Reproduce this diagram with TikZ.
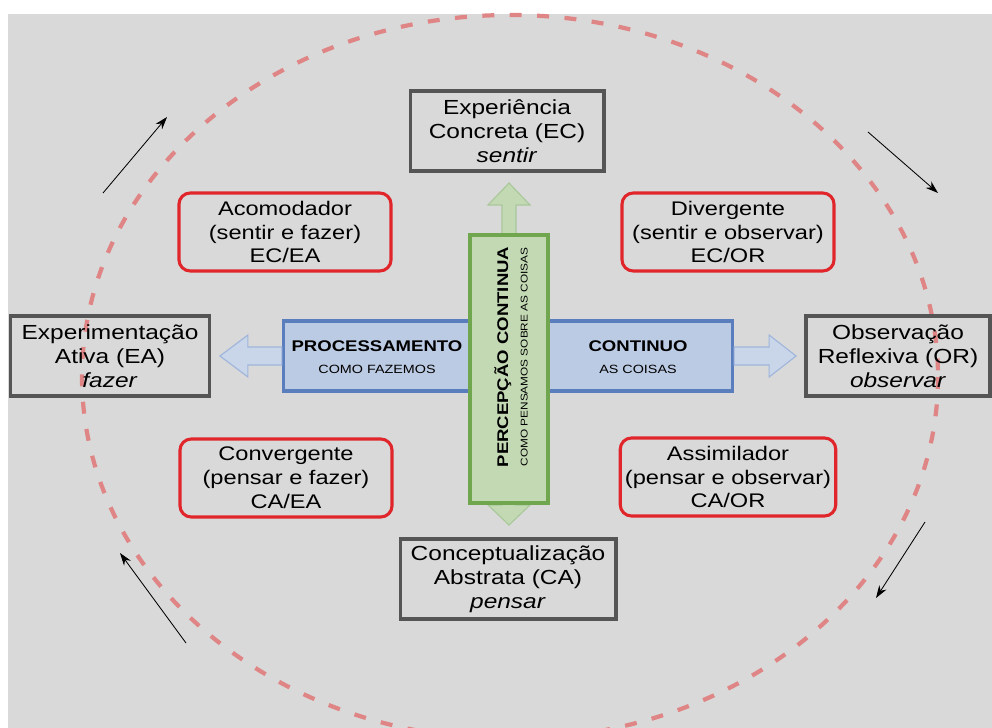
\documentclass[tikz,border=0pt]{standalone}
\usepackage{fontspec}
\setmainfont{Liberation Sans}[FakeStretch=1.2]
\usetikzlibrary{arrows.meta}
\definecolor{fundo}{HTML}{D9D9D9}
\definecolor{cinzabox}{HTML}{555555}
\definecolor{vermelho}{HTML}{E0262B}
\definecolor{tracejado}{HTML}{E08585}
\definecolor{azulfill}{HTML}{BCCBE4}
\definecolor{azulbord}{HTML}{5A7DBE}
\definecolor{azulseta}{HTML}{9FB5DA}
\definecolor{verdefill}{HTML}{C3D9B4}
\definecolor{verdebord}{HTML}{6FA64E}
\definecolor{verdeseta}{HTML}{A9C89A}

\begin{document}
\begin{tikzpicture}[x=0.025cm, y=-0.025cm,
      modo/.style={rectangle, draw=cinzabox, line width=2.8pt, align=center,
                   minimum height=2cm, font=\fontsize{14.5}{17}\selectfont},
      estilo/.style={rectangle, draw=vermelho, line width=2.2pt, rounded corners=8pt,
                     align=center, minimum width=5.3cm, minimum height=1.95cm,
                     font=\fontsize{14}{17}\selectfont},
      barra/.style={rectangle, line width=2.2pt},
      seta/.style={line width=0.8pt},
      giro/.style={-{Stealth[length=9pt,width=6pt]}, line width=0.6pt}]
    \useasboundingbox (0,0) rectangle (992,728);
    \fill[fundo] (8,14) rectangle (992,728);
    \draw[tracejado, line width=3pt, dash pattern=on 8.5pt off 11pt]
      (510,377) ellipse [x radius=428, y radius=362];

    % setas do ciclo
    \coordinate (tl1) at (103,193); \coordinate (tl2) at (167,117);
    \coordinate (tr1) at (868,132); \coordinate (tr2) at (938,193);
    \coordinate (br1) at (925,522); \coordinate (br2) at (876,598);
    \coordinate (bl1) at (186,643); \coordinate (bl2) at (120,553);
    \draw[giro] (tl1) -- (tl2);
    \draw[giro] (tr1) -- (tr2);
    \draw[giro] (br1) -- (br2);
    \draw[giro] (bl1) -- (bl2);

    % eixo horizontal
    \node[barra, fill=azulfill, draw=azulbord, minimum width=11.225cm, minimum height=1.75cm]
      (proc) at (508,356) {};
    \filldraw[seta, fill=azulfill!80!white, draw=azulseta]
      (proc.west) ++(0,-9) -- ++(-34,0) -- ++(0,-12) -- ++(-28,21) -- ++(28,21)
      -- ++(0,-12) -- ++(34,0) -- cycle;
    \filldraw[seta, fill=azulfill!80!white, draw=azulseta]
      (proc.east) ++(0,-9) -- ++(35,0) -- ++(0,-12) -- ++(27,21) -- ++(-27,21)
      -- ++(0,-12) -- ++(-35,0) -- cycle;
    \node[font=\fontsize{11}{16}\selectfont, align=center] (como) at (377,357)
      {\textbf{PROCESSAMENTO}\\\fontsize{8.5}{10}\selectfont COMO FAZEMOS};
    \node[font=\fontsize{11}{16}\selectfont, align=center] (coisas) at (638,357)
      {\textbf{CONTINUO}\\\fontsize{8.5}{10}\selectfont AS COISAS};

    % eixo vertical
    \filldraw[seta, fill=verdefill, draw=verdeseta]
      (509,240) ++(-7,0) -- ++(0,-35) -- ++(-14,0) -- ++(21,-22) -- ++(21,22)
      -- ++(-14,0) -- ++(0,35) -- cycle;
    \filldraw[seta, fill=verdefill, draw=verdeseta]
      (509,498) ++(-7,0) -- ++(0,7) -- ++(-14,0) -- ++(21,20) -- ++(21,-20)
      -- ++(-14,0) -- ++(0,-7) -- cycle;
    \node[barra, fill=verdefill, draw=verdebord, minimum width=1.95cm, minimum height=6.7cm]
      (perc) at (509,369) {};
    \node[rotate=90, font=\fontsize{11}{14}\selectfont, align=center] (pensa) at (511,357)
      {\textbf{PERCEPÇÃO CONTINUA}\\\fontsize{7}{10}\selectfont COMO PENSAMOS SOBRE AS COISAS};

    % modos de aprendizagem
    \node[modo, minimum width=4.825cm] (ec) at (507,131)
      {Experiência\\Concreta (EC)\\\textit{sentir}};
    \node[modo, minimum width=4.975cm] (ea) at (110,356)
      {Experimentação\\Ativa (EA)\\\textit{fazer}};
    \node[modo, minimum width=4.6cm] (or) at (898,356)
      {Observação\\Reflexiva (OR)\\\textit{observar}};
    \node[modo, minimum width=5.375cm] (ca) at (508,579)
      {Conceptualização\\Abstrata (CA)\\\textit{pensar}};

    % estilos
    \node[estilo] (acom) at (285,232) {Acomodador\\(sentir e fazer)\\EC/EA};
    \node[estilo] (div) at (728,232) {Divergente\\(sentir e observar)\\EC/OR};
    \node[estilo] (conv) at (286,478) {Convergente\\(pensar e fazer)\\CA/EA};
    \node[estilo] (assim) at (728,477) {Assimilador\\(pensar e observar)\\CA/OR};
  \end{tikzpicture}
\end{document}
